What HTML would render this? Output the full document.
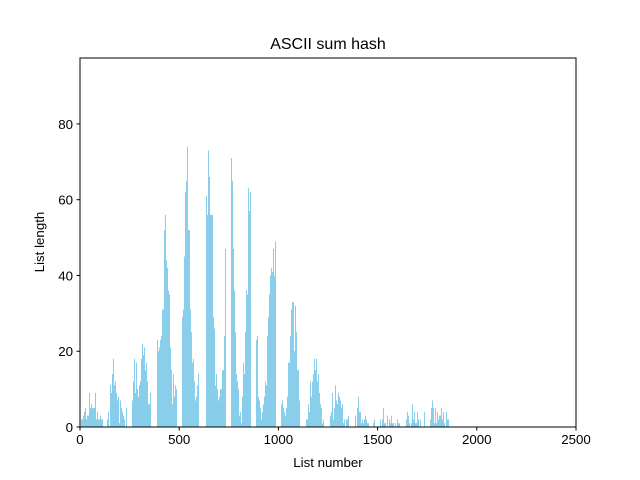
<!DOCTYPE html>
<html><head><meta charset="utf-8"><style>
body{margin:0;background:#fff;}
svg{display:block;font-family:"Liberation Sans",sans-serif;}
</style></head><body>
<svg id="chart" width="640" height="480">
<rect width="640" height="480" fill="#fff"/>
<g id="bars"></g>
<rect x="80" y="58" width="496" height="369" fill="none" stroke="#000" stroke-width="1"/>
<g id="xticks"></g>
<g id="yticks"></g>
<text x="328" y="49" text-anchor="middle" font-size="16">ASCII sum hash</text>
<text x="328" y="467" text-anchor="middle" font-size="13.3">List number</text>
<text x="44" y="242" text-anchor="middle" font-size="13.3" transform="rotate(-90 44 242)">List length</text>
</svg>
<script>
const xTicks=[0,500,1000,1500,2000,2500];
const yTicks=[0,20,40,60,80];
const binWidth=5.04;
const segStarts=[5,136,262,388,514,635,761,887,1013,1139,1260,1386,1477,1512,1643,1764];
const segA=[2,2,3,4,5,2,3,3,9,5,6,5,5,5,9,2,4,2,2,3,2,2];
const segB=[2,4,0,11,9,14,18,11,12,9,7,8,1,7,5,4,3,2,0,5];
const segC=[7,12,18,9,17,10,8,11,12,18,22,19,21,15,17,12,6,6,9];
const segD=[23,20,21,23,24,31,31,52,56,44,42,36,35,21,15,6,14,8,11,10];
const segE=[29,31,45,62,65,74,52,52,31,25,17,18,12,7,8,11,14];
const segF=[61,56,73,66,56,56,56,29,26,11,14,10,7,8,10,10,15,15,24,47];
const segG=[71,65,47,36,25,14,12,10,3,4,1,8,17,14,25,36,35,63,57,62];
const segH=[23,24,8,7,5,2,4,6,8,12,11,24,29,35,40,42,41,47,40,49];
const segI=[6,7,5,4,3,5,8,17,17,24,31,33,33,20,32,25,15,15,7];
const segJ=[2,2,6,4,12,8,12,14,18,15,18,12,14,9,6,5,1,2];
const segK=[3,4,9,2,5,11,7,6,9,8,7,5,6,1,2,0,2,2,3];
const segL=[3,0,5,8,4,4,1,2,1,2,3,2,1,1];
const segM=[1,2];
const segN=[2,0,2,5,1,1,0,3,0,2,1,3,1,1,0,1,0,2,1,1];
const segO=[2,4,3,1,0,1,6,2,4,1,1,4,2,0,2,0,0,0,4];
const segP=[2,5,7,5,1,5,1,4,2,3,3,5,2,4,1,0,4,2,2];
const segValues=[segA,segB,segC,segD,segE,segF,segG,segH,segI,segJ,segK,segL,segM,segN,segO,segP];

const NS="http://www.w3.org/2000/svg";
const X0=80,X1=576,Y0=427,Y1=58,XMAX=2500,YMAX=97.4;
function sx(v){return X0+v/XMAX*(X1-X0);}
function sy(v){return Y0-v/YMAX*(Y0-Y1);}
const bars=document.getElementById('bars');
segValues.forEach((vals,si)=>{
  vals.forEach((v,i)=>{
    if(v<=0)return;
    const n=segStarts[si]+i*binWidth;
    const r=document.createElementNS(NS,'rect');
    r.setAttribute('x',sx(n));
    r.setAttribute('width',Math.max(1,sx(n+binWidth)-sx(n)));
    r.setAttribute('y',sy(v));
    r.setAttribute('height',sy(0)-sy(v));
    r.setAttribute('fill','#87ceeb');
    
    
    bars.appendChild(r);
  });
});
const xg=document.getElementById('xticks');
xTicks.forEach(t=>{
  const x=sx(t);
  const l=document.createElementNS(NS,'line');
  l.setAttribute('x1',x);l.setAttribute('x2',x);l.setAttribute('y1',Y0);l.setAttribute('y2',Y0+3.5);
  l.setAttribute('stroke','#000');
  
  
  xg.appendChild(l);
  const tx=document.createElementNS(NS,'text');
  tx.setAttribute('x',x);tx.setAttribute('y',Y0+17);tx.setAttribute('text-anchor','middle');tx.setAttribute('font-size','13.3');
  tx.textContent=t;
  
  
  xg.appendChild(tx);
});
const yg=document.getElementById('yticks');
yTicks.forEach(t=>{
  const y=sy(t);
  const l=document.createElementNS(NS,'line');
  l.setAttribute('x1',X0-3.5);l.setAttribute('x2',X0);l.setAttribute('y1',y);l.setAttribute('y2',y);
  l.setAttribute('stroke','#000');
  
  
  yg.appendChild(l);
  const tx=document.createElementNS(NS,'text');
  tx.setAttribute('x',X0-7);tx.setAttribute('y',y+5);tx.setAttribute('text-anchor','end');tx.setAttribute('font-size','13.3');
  tx.textContent=t;
  
  
  yg.appendChild(tx);
});
</script>
</body></html>
